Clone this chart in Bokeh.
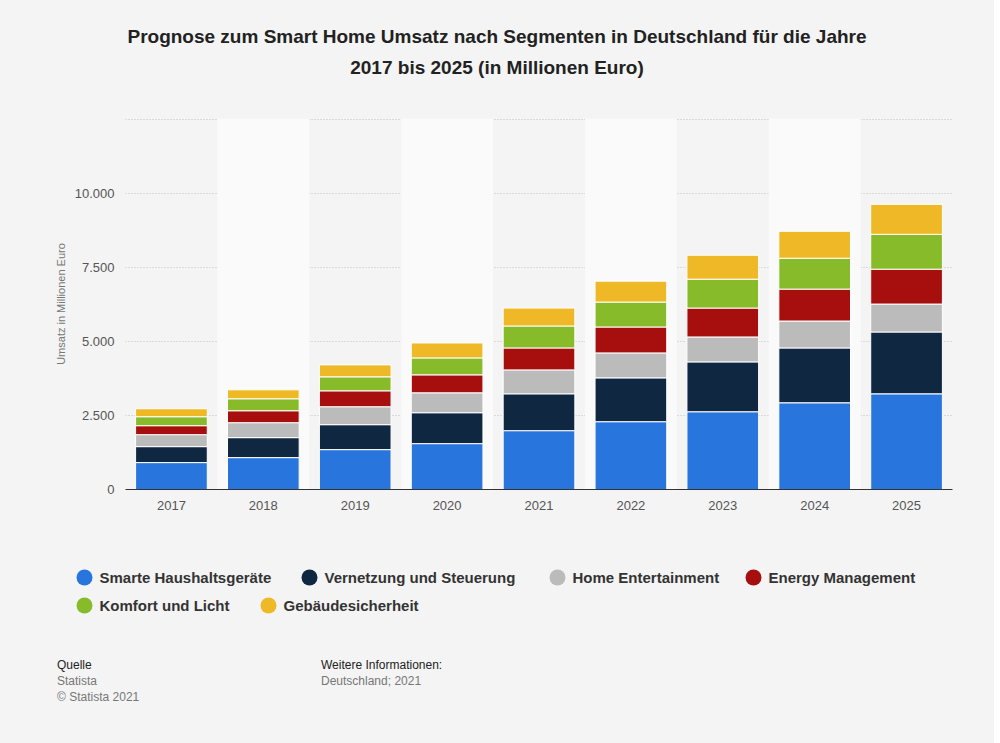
from bokeh.plotting import figure
from bokeh.embed import file_html
from bokeh.resources import INLINE
from bokeh.models import CustomJSTickFormatter, Div, FixedTicker, Range1d
from bokeh.core.properties import value
from bokeh.layouts import column, row

years = ["2017","2018","2019","2020","2021","2022","2023","2024","2025"]
series = ["Smarte Haushaltsgeräte","Vernetzung und Steuerung","Home Entertainment","Energy Management","Komfort und Licht","Gebäudesicherheit"]
haushalt = [909,1077,1347,1549,1987,2290,2626,2929,3232]
vernetzung = [539,674,842,1044,1245,1481,1684,1852,2088]
entertainment = [404,505,606,673,808,842,842,909,943]
energy = [303,404,538,606,741,875,976,1078,1178]
komfort = [303,404,472,572,741,842,976,1043,1178]
sicherheit = [269,303,404,505,606,707,808,909,1011]
colors = ["#2876dd","#0f2741","#bbbbbb","#a70e0e","#88bb29","#efb826"]
band_years = ["2018","2020","2022","2024"]

# legend layout (screen px)
leg_x = [84, 309, 557, 753, 84, 268]
leg_y = [48, 48, 48, 48, 76, 76]

BG = "#f4f4f4"
FONT = "Liberation Sans"

data = {"years": years, "s0": haushalt, "s1": vernetzung, "s2": entertainment,
        "s3": energy, "s4": komfort, "s5": sicherheit}
keys = ["s0","s1","s2","s3","s4","s5"]

title = Div(text="Prognose zum Smart Home Umsatz nach Segmenten in Deutschland für die Jahre<br>2017 bis 2025 (in Millionen Euro)",
            width=984, height=98,
            styles={"text-align": "center", "font-family": FONT, "font-size": "19px",
                    "font-weight": "bold", "color": "#222", "line-height": "31px",
                    "padding-top": "16px", "width": "984px", "background": BG})

p = figure(x_range=years, y_range=(0, 12530), width=984, height=421,
           output_backend="svg", toolbar_location=None,
           min_border_left=125, min_border_right=32, min_border_top=10, min_border_bottom=40,
           background_fill_color=BG, border_fill_color=BG, outline_line_color=None)

p.vbar(x=band_years, top=[12530]*4, width=1.0, color="#fafafa", line_color=None)
p.vbar_stack(keys, x="years", width=0.78, color=colors, source=data,
             line_color="white", line_width=1)

p.xgrid.grid_line_color = None
p.ygrid.grid_line_color = "#c0c0c0"
p.ygrid.grid_line_dash = "1 2"
p.ygrid.level = "underlay"
p.yaxis.ticker = FixedTicker(ticks=[0,2500,5000,7500,10000,12500])
p.yaxis.formatter = CustomJSTickFormatter(code="if (tick > 10000) {return '';} return tick.toString().replace(/\\B(?=(\\d{3})+(?!\\d))/g, '.');")
p.yaxis.axis_line_color = None
p.yaxis.major_tick_line_color = None
p.yaxis.minor_tick_line_color = None
p.yaxis.axis_label = "Umsatz in Millionen Euro"
p.yaxis.axis_label_text_font_style = "normal"
p.yaxis.axis_label_text_font_size = "11px"
p.yaxis.axis_label_text_color = "#777777"
p.xaxis.axis_line_color = "#333333"
p.xaxis.major_tick_line_color = None
for ax in (p.xaxis, p.yaxis):
    ax.major_label_text_font_size = "13px"
    ax.major_label_text_color = "#555555"
    ax.major_label_text_font = FONT
    ax.axis_label_text_font = FONT

lf = figure(width=984, height=96, x_range=Range1d(0, 984), y_range=Range1d(96, 0),
            output_backend="svg", toolbar_location=None, min_border=0,
            background_fill_color=BG, border_fill_color=BG, outline_line_color=None)
lf.axis.visible = False
lf.grid.visible = False
lf.scatter(x=leg_x, y=leg_y, size=16, color=colors, line_color=None)
lf.text(x=[x + 15 for x in leg_x], y=leg_y, text=series, text_font=value(FONT),
        text_font_style="bold", text_font_size="15px", text_color="#333333",
        text_baseline="middle")

footer = Div(text="""<div style="display:flex;font-family:'Liberation Sans';font-size:12px;background:#f4f4f4;width:984px;height:110px;padding-top:27px;">
<div style="margin-left:52px;width:264px;line-height:16px;"><span style="color:#222">Quelle</span><br><span style="color:#777">Statista<br>© Statista 2021</span></div>
<div style="line-height:16px;"><span style="color:#222">Weitere Informationen:</span><br><span style="color:#777">Deutschland; 2021</span></div></div>""",
             width=984, height=110)

layout = column(title, column(p), row(lf), footer, spacing=0, styles={"background": BG})
open("out.html", "w").write(file_html(layout, INLINE))
